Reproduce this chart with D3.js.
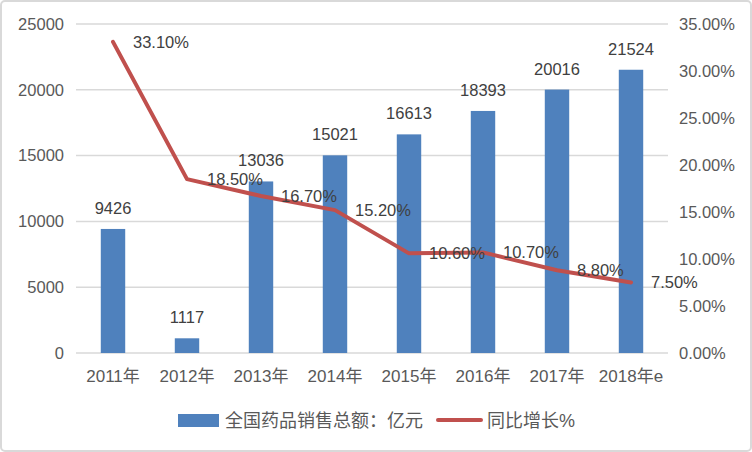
<!DOCTYPE html>
<html><head><meta charset="utf-8">
<script src="https://cdn.jsdelivr.net/npm/d3@7"></script>
<style>body{margin:0;background:#fff}svg{display:block}text{font-family:"Liberation Sans",Arial,"Noto Sans CJK SC",sans-serif;fill:#404040}</style>
</head><body><svg id="c" width="752" height="452"></svg>
<script>
const categories = ["2011年","2012年","2013年","2014年","2015年","2016年","2017年","2018年e"];
const sales = [9426,1117,13036,15021,16613,18393,20016,21524];
const growth = [33.1,18.5,16.7,15.2,10.6,10.7,8.8,7.5];
const leftTicks = [0,5000,10000,15000,20000,25000];
const rightTicks = [0,5,10,15,20,25,30,35];
const seriesNames = ["全国药品销售总额：亿元","同比增长%"];

const svg = d3.select("#c");
const W=752,H=452;
const m={l:76,r:84,t:24,b:99};
const x0=m.l, x1=W-m.r, y0=H-m.b, y1=m.t;
svg.append("rect").attr("x",1).attr("y",1).attr("width",W-2).attr("height",H-2).attr("rx",4)
  .attr("fill","#fff").attr("stroke","#d9d9d9").attr("stroke-width",2);

const x=d3.scaleBand().domain(categories).range([x0,x1]).paddingInner(0.67).paddingOuter(0.335);
const yL=d3.scaleLinear().domain([0,25000]).range([y0,y1]);
const yR=d3.scaleLinear().domain([0,35]).range([y0,y1]);
const cx=d=>x(d)+x.bandwidth()/2;
const axisColor="#595959";

// gridlines
svg.append("g").selectAll("line").data(leftTicks).join("line")
  .attr("x1",x0).attr("x2",x1).attr("y1",d=>yL(d)).attr("y2",d=>yL(d))
  .attr("stroke","#d9d9d9").attr("stroke-width",1.5);

// left axis
const la=svg.append("g").attr("transform",`translate(${x0-12},0)`)
  .call(d3.axisLeft(yL).tickValues(leftTicks).tickSize(0).tickPadding(0).tickFormat(d3.format("d")));
la.select(".domain").remove();
la.selectAll("text").style("font-size","16.5px").style("fill",axisColor);
// right axis
const ra=svg.append("g").attr("transform",`translate(${x1+11},0)`)
  .call(d3.axisRight(yR).tickValues(rightTicks).tickSize(0).tickPadding(0).tickFormat(d=>d.toFixed(2)+"%"));
ra.select(".domain").remove();
ra.selectAll("text").style("font-size","16.5px").style("fill",axisColor);
// x axis
const xa=svg.append("g").attr("transform",`translate(0,${y0+17})`)
  .call(d3.axisBottom(x).tickSize(0).tickPadding(0));
xa.select(".domain").remove();
xa.selectAll("text").style("font-size","17px").style("fill",axisColor).attr("dy","0.71em");

// bars
svg.append("g").selectAll("rect").data(categories).join("rect")
  .attr("x",d=>x(d)).attr("width",x.bandwidth())
  .attr("y",(d,i)=>yL(sales[i])).attr("height",(d,i)=>y0-yL(sales[i]))
  .attr("fill","#4f81bd");
svg.append("g").selectAll("text").data(categories).join("text")
  .attr("x",d=>cx(d)).attr("y",(d,i)=>yL(sales[i])-15)
  .attr("text-anchor","middle").style("font-size","16.5px").text((d,i)=>sales[i]);

// line
const line=d3.line().x((d,i)=>cx(categories[i])).y(d=>yR(d));
svg.append("path").datum(growth).attr("d",line).attr("fill","none")
  .attr("stroke","#c0504d").attr("stroke-width",4).attr("stroke-linejoin","round").attr("stroke-linecap","round");
svg.append("g").selectAll("text").data(growth).join("text")
  .attr("x",(d,i)=>cx(categories[i])+20).attr("y",d=>yR(d)).attr("dy","0.35em")
  .style("font-size","16.5px").text(d=>d.toFixed(2)+"%");

// legend
const lg=svg.append("g");
lg.append("rect").attr("x",178).attr("y",414).attr("width",41).attr("height",13).attr("fill","#4f81bd");
lg.append("text").attr("x",225).attr("y",421).attr("dy","0.35em").style("font-size","18px").style("fill",axisColor).text(seriesNames[0]);
lg.append("line").attr("x1",438).attr("x2",481).attr("y1",420).attr("y2",420)
  .attr("stroke","#c0504d").attr("stroke-width",4).attr("stroke-linecap","round");
lg.append("text").attr("x",487).attr("y",421).attr("dy","0.35em").style("font-size","18px").style("fill",axisColor).text(seriesNames[1]);
</script></body></html>
